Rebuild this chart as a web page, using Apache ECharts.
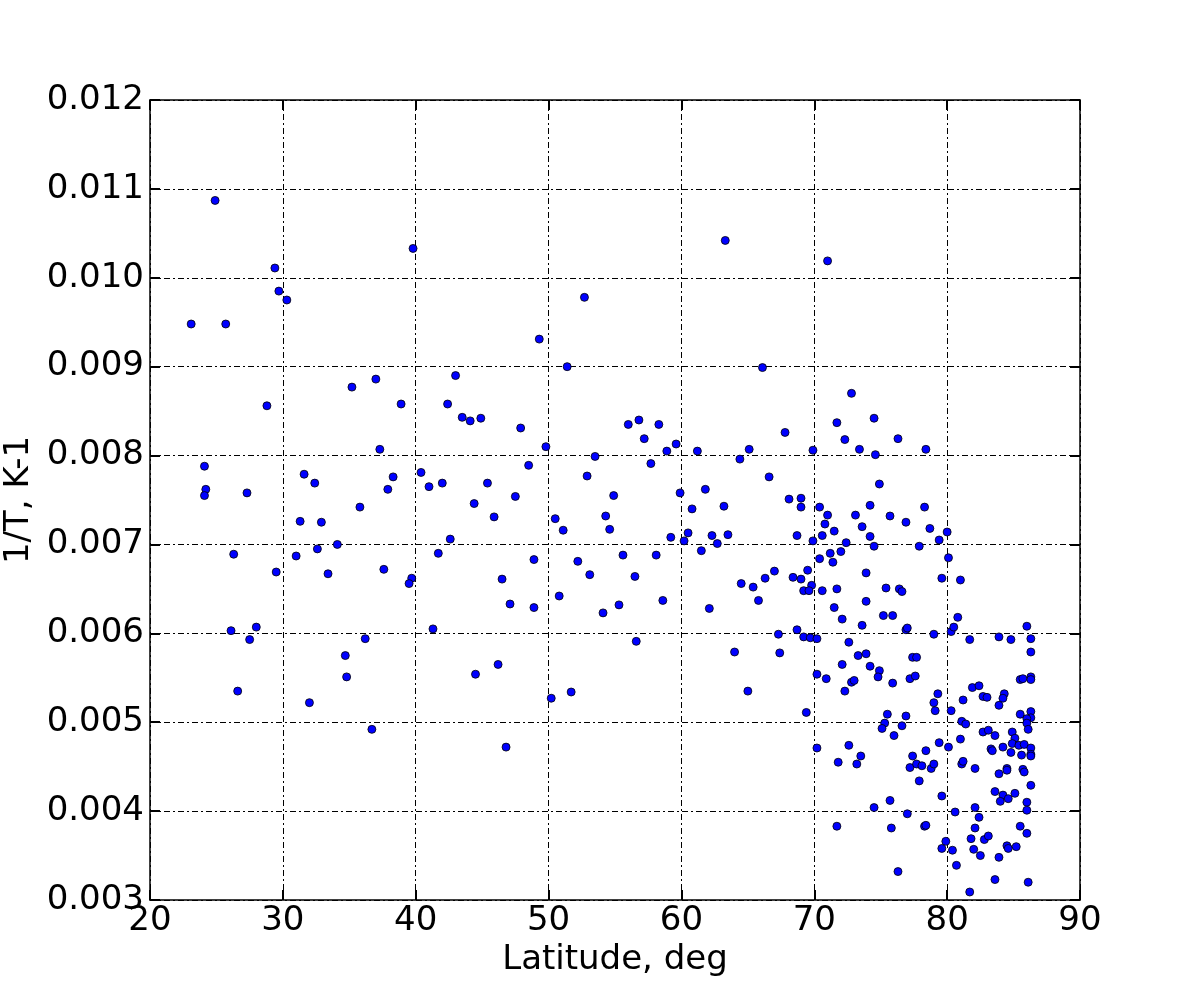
<!DOCTYPE html>
<html>
<head>
<meta charset="utf-8">
<script src="https://cdn.jsdelivr.net/npm/echarts@6/dist/echarts.min.js"></script>
<style>
    html, body { margin: 0; padding: 0; background: #fff; }
    #chart { width: 1200px; height: 1000px; }
</style>
</head>
<body>
<div id="chart"></div>
<script>
// latitude (deg) of each point
var latitude = [
    23.1, 24.9, 39.8, 29.4, 29.7, 30.3, 25.7, 43.0, 37.0, 35.2, 28.8, 38.9, 42.4, 43.5, 44.1, 37.3,
    24.1, 31.6, 32.4, 38.3, 37.9, 40.4, 41.0, 42.0, 24.2, 24.1, 27.3,
    63.3, 52.7, 49.3, 51.4, 66.1, 44.9, 47.9, 49.8, 48.5, 45.4, 44.4, 47.5, 56.0, 56.8, 58.3, 57.2,
    58.9, 59.6, 61.2, 53.5, 52.9, 57.7, 54.9, 59.9, 61.8, 64.4, 65.1, 66.6, 71.0,
    35.8, 31.3, 32.9, 26.3, 31.0, 32.6, 34.1, 29.5, 33.4, 37.6, 39.7, 39.5, 41.7, 42.6, 26.1, 28.0,
    27.5, 41.3, 36.2, 34.7, 34.8, 26.6, 32.0, 36.7,
    45.9, 50.5, 51.1, 54.3, 54.6, 60.8, 63.2, 59.2, 60.5, 60.2, 62.3, 63.5, 62.7, 61.5, 48.9, 52.2,
    55.6, 58.1, 46.5, 53.1, 56.5, 50.8, 47.1, 48.9, 54.1, 55.3, 58.6, 62.1, 64.5, 65.4, 65.8, 66.3,
    67.0, 56.6, 64.0, 67.3, 67.4, 44.5, 46.2, 50.2, 51.7, 65.0, 46.8,
    72.8, 71.7, 74.5, 67.8, 72.3, 76.3, 69.9, 73.4, 74.6, 78.4, 74.9, 68.1, 69.0, 69.0, 70.4, 71.0,
    70.8, 73.1, 74.2, 73.6, 75.7, 76.9, 78.3, 78.7, 80.0, 68.7, 70.6, 71.5, 74.2, 69.9, 72.4, 74.5,
    77.9, 79.4, 80.1, 72.0, 71.2, 70.4, 71.4, 69.5, 73.9, 68.4, 69.0, 79.6, 81.0, 69.8, 69.2, 69.6,
    70.6, 71.7, 75.4, 76.4, 76.6, 73.9, 71.5, 75.2, 75.9, 80.8, 72.1, 73.6, 86.0, 68.7, 76.9, 77.0,
    80.3, 80.5,
    69.2, 69.7, 70.2, 72.6, 79.0, 81.7, 83.9, 84.8, 86.3, 86.3, 70.2, 70.9, 72.1, 73.3, 73.9, 74.2,
    74.9, 74.8, 72.8, 73.0, 72.3, 69.4, 75.9, 77.2, 77.6, 77.4, 77.7, 79.3, 79.0, 79.1, 80.3, 81.2,
    81.9, 82.4, 82.7, 83.0, 84.3, 84.2, 83.9, 85.5, 85.7, 86.3, 86.3, 85.5, 86.3, 86.3, 86.0, 86.0,
    86.1, 75.5, 75.3, 75.1, 76.0, 76.6, 76.9, 70.2, 72.6, 71.8, 73.5, 73.2, 81.1, 81.4, 81.0, 80.1,
    79.4, 78.4, 77.4, 77.2, 77.7, 78.1, 78.8, 79.0, 77.9, 79.6, 81.1, 81.2, 82.1, 82.7, 83.1, 83.6,
    83.3, 83.4, 84.2, 84.9, 85.1, 84.9, 85.4, 85.8, 84.8, 85.6, 86.3, 86.3, 86.3, 84.5, 84.5, 83.9,
    85.7, 85.8, 86.3, 83.6, 84.2, 84.0, 84.6, 85.1, 86.0, 86.0, 82.1, 82.4, 80.6, 82.1, 81.8, 82.8,
    83.1, 82.0, 82.5, 83.9, 84.5, 84.6, 85.2, 85.5, 86.0, 83.6, 86.1, 81.7, 79.9, 79.6, 80.4, 80.7,
    74.5, 75.7, 77.0, 71.7, 75.8, 78.3, 78.4, 76.3
];

// 1/T (K-1) of each point, same order
var inverseT = [
    0.00948, 0.01087, 0.01033, 0.01011, 0.00985, 0.00975, 0.00948, 0.00890, 0.00886, 0.00877, 0.00856, 0.00858, 0.00858, 0.00843, 0.00839, 0.00807,
    0.00788, 0.00779, 0.00769, 0.00776, 0.00762, 0.00781, 0.00765, 0.00769, 0.00762, 0.00755, 0.00758,
    0.01042, 0.00978, 0.00931, 0.00900, 0.00899, 0.00842, 0.00831, 0.00810, 0.00789, 0.00769, 0.00746, 0.00754, 0.00835, 0.00840, 0.00835, 0.00819,
    0.00805, 0.00813, 0.00805, 0.00799, 0.00777, 0.00791, 0.00755, 0.00758, 0.00762, 0.00796, 0.00807, 0.00776, 0.01019,
    0.00742, 0.00726, 0.00725, 0.00689, 0.00687, 0.00695, 0.00700, 0.00669, 0.00667, 0.00672, 0.00662, 0.00656, 0.00690, 0.00706, 0.00603, 0.00607,
    0.00593, 0.00605, 0.00594, 0.00575, 0.00551, 0.00535, 0.00522, 0.00492,
    0.00731, 0.00729, 0.00716, 0.00732, 0.00717, 0.00740, 0.00743, 0.00708, 0.00713, 0.00704, 0.00710, 0.00711, 0.00701, 0.00693, 0.00683, 0.00681,
    0.00688, 0.00688, 0.00661, 0.00666, 0.00664, 0.00642, 0.00633, 0.00629, 0.00623, 0.00632, 0.00637, 0.00628, 0.00656, 0.00652, 0.00637, 0.00662,
    0.00670, 0.00591, 0.00579, 0.00599, 0.00578, 0.00554, 0.00565, 0.00527, 0.00534, 0.00535, 0.00472,
    0.00870, 0.00837, 0.00842, 0.00826, 0.00818, 0.00819, 0.00806, 0.00807, 0.00801, 0.00807, 0.00768, 0.00751, 0.00752, 0.00742, 0.00742, 0.00733,
    0.00723, 0.00733, 0.00744, 0.00720, 0.00732, 0.00725, 0.00742, 0.00718, 0.00714, 0.00710, 0.00710, 0.00715, 0.00709, 0.00704, 0.00702, 0.00698,
    0.00698, 0.00705, 0.00685, 0.00692, 0.00690, 0.00684, 0.00680, 0.00671, 0.00668, 0.00663, 0.00661, 0.00662, 0.00660, 0.00654, 0.00648, 0.00648,
    0.00648, 0.00650, 0.00651, 0.00650, 0.00647, 0.00636, 0.00629, 0.00620, 0.00620, 0.00618, 0.00616, 0.00609, 0.00608, 0.00604, 0.00604, 0.00606,
    0.00602, 0.00607,
    0.00596, 0.00595, 0.00594, 0.00590, 0.00599, 0.00593, 0.00596, 0.00593, 0.00594, 0.00579, 0.00554, 0.00549, 0.00565, 0.00575, 0.00577, 0.00563,
    0.00558, 0.00551, 0.00545, 0.00547, 0.00535, 0.00511, 0.00544, 0.00549, 0.00552, 0.00573, 0.00573, 0.00532, 0.00522, 0.00513, 0.00513, 0.00525,
    0.00539, 0.00541, 0.00529, 0.00528, 0.00532, 0.00527, 0.00519, 0.00548, 0.00549, 0.00551, 0.00548, 0.00509, 0.00512, 0.00505, 0.00504, 0.00499,
    0.00492, 0.00509, 0.00499, 0.00493, 0.00485, 0.00496, 0.00507, 0.00471, 0.00474, 0.00455, 0.00462, 0.00453, 0.00501, 0.00498, 0.00481, 0.00472,
    0.00477, 0.00468, 0.00462, 0.00449, 0.00453, 0.00451, 0.00448, 0.00453, 0.00434, 0.00417, 0.00453, 0.00456, 0.00448, 0.00489, 0.00491, 0.00485,
    0.00470, 0.00468, 0.00472, 0.00489, 0.00482, 0.00476, 0.00474, 0.00475, 0.00466, 0.00463, 0.00471, 0.00464, 0.00462, 0.00448, 0.00446, 0.00442,
    0.00447, 0.00444, 0.00429, 0.00422, 0.00418, 0.00411, 0.00414, 0.00420, 0.00410, 0.00401, 0.00404, 0.00393, 0.00399, 0.00381, 0.00369, 0.00368,
    0.00372, 0.00357, 0.00350, 0.00348, 0.00361, 0.00358, 0.00360, 0.00383, 0.00375, 0.00323, 0.00320, 0.00309, 0.00366, 0.00358, 0.00356, 0.00339,
    0.00404, 0.00412, 0.00397, 0.00383, 0.00381, 0.00383, 0.00384, 0.00332
];

var xTicks = [20, 90, 10];        // min, max, step
var yTicks = [0.003, 0.012, 0.001];

var points = [];
for (var i = 0; i < latitude.length; i++) {
    points.push([latitude[i], inverseT[i]]);
}

var font = 'DejaVu Sans';
var dashDot = { color: '#000', width: 1, type: [6, 3, 2, 3] };

function axisBase(pos, ticks, showLabel, showGrid) {
    return {
        type: 'value',
        position: pos,
        min: ticks[0],
        max: ticks[1],
        interval: ticks[2],
        axisLine: { show: true, onZero: false, lineStyle: { color: '#000', width: 1.5 } },
        axisTick: { show: true, inside: true, length: 10, lineStyle: { color: '#000', width: 2 } },
        splitLine: { show: showGrid, lineStyle: dashDot },
        axisLabel: { show: showLabel }
    };
}

var xMain = axisBase('bottom', xTicks, true, true);
xMain.name = 'Latitude, deg';
xMain.nameLocation = 'middle';
xMain.nameGap = 37;
xMain.nameTextStyle = { fontFamily: font, fontSize: 34, color: '#000' };
xMain.axisLabel = { show: true, margin: 4, fontFamily: font, fontSize: 34, color: '#000' };

var yMain = axisBase('left', yTicks, true, true);
yMain.name = '1/T, K-1';
yMain.nameLocation = 'middle';
yMain.nameGap = 108;
yMain.nameTextStyle = { fontFamily: font, fontSize: 34, color: '#000' };
yMain.axisLabel = {
    show: true, margin: 6, fontFamily: font, fontSize: 34, color: '#000',
    formatter: function (v) { return v.toFixed(3); }
};

var chart = echarts.init(document.getElementById('chart'));
chart.setOption({
    backgroundColor: '#fff',
    animation: false,
    grid: { left: 150, right: 120, top: 100, bottom: 100, containLabel: false, outerBoundsMode: 'none' },
    xAxis: [xMain, axisBase('top', xTicks, false, false)],
    yAxis: [yMain, axisBase('right', yTicks, false, false)],
    series: [{
        type: 'scatter',
        data: points,
        symbol: 'circle',
        symbolSize: 8,
        itemStyle: { color: '#0000ff', borderColor: '#000', borderWidth: 0.8, opacity: 1 }
    }]
});
</script>
</body>
</html>
